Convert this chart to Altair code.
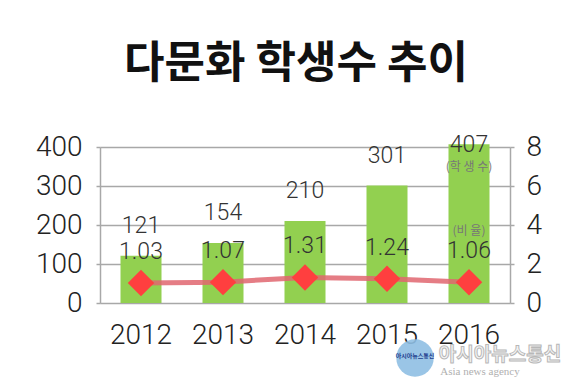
import altair as alt
import pandas as pd

years = ["2012", "2013", "2014", "2015", "2016"]
students = [121, 154, 210, 301, 407]
ratios = [1.03, 1.07, 1.31, 1.24, 1.06]
left_ticks = [0, 100, 200, 300, 400]
right_ticks = [0, 2, 4, 6, 8]

df = pd.DataFrame({"year": years, "students": students, "ratio": ratios})
df["ratio_label"] = [f"{r:.2f}" for r in ratios]

NUM_FONT = "Roboto"
KR_FONT = "Noto Sans CJK KR"
GRID = "#a8a8a8"

left_axis = alt.Axis(values=left_ticks, orient="left", grid=True, gridColor=GRID,
                     gridWidth=1.5, domain=True, domainColor=GRID, domainWidth=1.5,
                     tickColor=GRID, tickSize=4, tickWidth=1.5,
                     labelFont=NUM_FONT, labelFontSize=28, labelFontWeight=300,
                     labelColor="#222", labelPadding=14)
right_axis = alt.Axis(values=right_ticks, orient="right", grid=False,
                      domain=True, domainColor=GRID, domainWidth=1.5,
                      tickColor=GRID, tickSize=4, tickWidth=1.5,
                      labelFont=NUM_FONT, labelFontSize=28, labelFontWeight=300,
                      labelColor="#222", labelPadding=12)
left_scale = alt.Scale(domain=[0, 400], nice=False)
right_scale = alt.Scale(domain=[0, 8], nice=False)

base = alt.Chart(df)
x_enc = alt.X("year:N", title=None,
              scale=alt.Scale(paddingInner=0.5, paddingOuter=0.25),
              axis=alt.Axis(labelFont=NUM_FONT, labelFontSize=28, labelFontWeight=300,
                            labelColor="#222", labelPadding=18, labelAngle=0,
                            ticks=False, domain=False))

bars = base.mark_bar(color="#92d050").encode(
    x=x_enc, y=alt.Y("students:Q", title=None, scale=left_scale, axis=left_axis))

count_text = base.transform_calculate(
    label_y="min(datum.students + 77, 405)"
).mark_text(font=NUM_FONT, fontSize=23, fontWeight=300, color="#333",
            baseline="middle").encode(
    x=alt.X("year:N"),
    y=alt.Y("label_y:Q", title=None, scale=left_scale, axis=left_axis),
    text=alt.Text("students:Q"),
)

stu_note = base.transform_filter(alt.datum.year == "2016").transform_calculate(
    label_y="min(datum.students + 77, 405)", note="'(학 생 수)'"
).mark_text(font=KR_FONT, fontSize=12, color="#777", baseline="middle", dy=22).encode(
    x=alt.X("year:N"),
    y=alt.Y("label_y:Q", title=None, scale=left_scale, axis=left_axis),
    text="note:N",
)

left_layer = alt.layer(bars, count_text, stu_note)

y_right = alt.Y("ratio:Q", title=None, scale=right_scale, axis=right_axis)

line = base.mark_line(color="#e06670", strokeWidth=5, opacity=0.85).encode(
    x=alt.X("year:N"), y=y_right)
points = base.mark_point(shape="diamond", filled=True, size=700, color="#ff3f3f",
                         opacity=1).encode(x=alt.X("year:N"), y=y_right)
ratio_text = base.mark_text(font=NUM_FONT, fontSize=23, fontWeight=300, color="#333",
                            baseline="middle", dy=-31).encode(
    x=alt.X("year:N"), y=y_right, text="ratio_label:N")
ratio_note = base.transform_filter(alt.datum.year == "2016").transform_calculate(
    note="'(비 율)'"
).mark_text(font=KR_FONT, fontSize=12, color="#777", baseline="middle", dy=-51).encode(
    x=alt.X("year:N"), y=y_right, text="note:N")

right_layer = alt.layer(line, points, ratio_text, ratio_note)

wm = pd.DataFrame({"t": ["아시아뉴스통신"], "e": ["Asia news agency"], "s": ["아시아뉴스통신"]})
wm_base = alt.Chart(wm)
globe = wm_base.mark_point(shape="circle", filled=True, color="#8fbfe3", size=1400,
                           opacity=0.9).encode(
    x=alt.value(315), y=alt.value(211))
globe_txt = wm_base.mark_text(font=KR_FONT, fontSize=6, color="#1f3f8f",
                              fontWeight="bold").encode(
    x=alt.value(315), y=alt.value(209), text="s:N")
wm_text = wm_base.mark_text(font=KR_FONT, fontSize=19, fontWeight="bold", color="#f4f4f4",
                            stroke="#b8b8b8", strokeWidth=1).encode(
    x=alt.value(400), y=alt.value(208), text="t:N")
wm_eng = wm_base.mark_text(font="Liberation Serif", fontSize=11, color="#b0b0b0").encode(
    x=alt.value(380), y=alt.value(225), text="e:N")

chart = alt.layer(left_layer, right_layer, globe, globe_txt, wm_text, wm_eng).resolve_scale(
    y="independent"
).properties(
    width=410, height=156,
    title=alt.TitleParams("다문화 학생수 추이", font=KR_FONT, fontSize=44, fontWeight="bold",
                          color="#111", anchor="middle", dx=-9, offset=46),
    autosize=alt.AutoSizeParams(type="none"),
    padding={"left": 92, "top": 139, "right": 62, "bottom": 76},
).configure_view(stroke=None).configure(background="white")

chart.save("out.html", embed_options={"renderer": "svg", "actions": False})
